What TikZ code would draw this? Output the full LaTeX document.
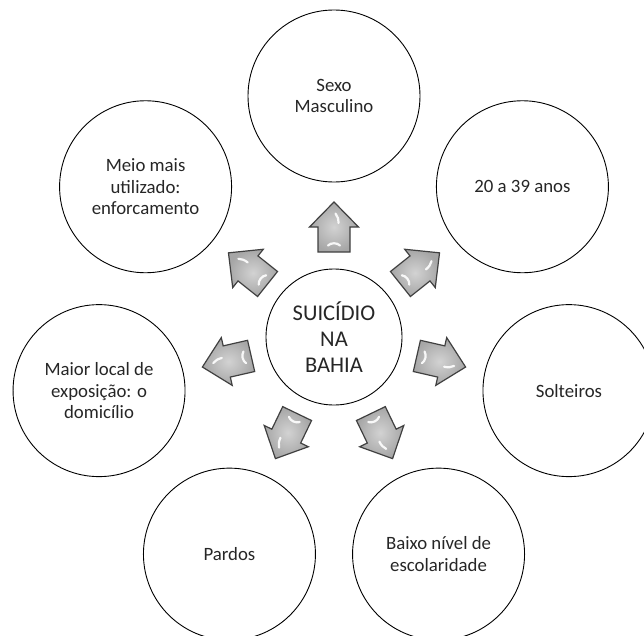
\documentclass[tikz,border=0pt]{standalone}
\usepackage{fontspec}
\setmainfont{Carlito}
\definecolor{txt}{HTML}{262626}
\definecolor{arrline}{HTML}{404040}
\begin{document}
\begin{tikzpicture}[x=1pt,y=1pt,
  outer/.style={circle, draw=black, line width=0.9pt, minimum size=172pt, inner sep=0pt,
    align=center, text=txt, font=\fontsize{18.8}{21.5}\selectfont},
  hub/.style={circle, draw=black, line width=0.9pt, minimum size=136pt, inner sep=0pt,
    align=center, text=txt, font=\fontsize{22.5}{26}\selectfont},
  arrowbox/.style={draw=arrline, line width=1.2pt, line join=miter, inner color=gray!35, outer color=gray!70},
  hl/.style={draw=white, line width=2.2pt, line cap=round, opacity=0.9}]
\useasboundingbox (-334,-298) rectangle (310,337);
\clip (-334,-298) rectangle (310,337);
\node[hub] (c) at (0,0) {SUICÍDIO\\NA\\BAHIA};
\node[outer] (o0) at (90:241) {Sexo\\Masculino};
\node[outer] (o1) at (38.571:241) {20 a 39 anos};
\node[outer] (o2) at (-12.857:241) {Solteiros};
\node[outer] (o3) at (-64.286:241) {Baixo nível de\\escolaridade};
\node[outer] (o4) at (-115.714:241) {Pardos};
\node[outer] (o5) at (192.857:241) {Maior local de\\exposição: o\\domicílio};
\node[outer] (o6) at (141.429:241) {Meio mais\\utilizado:\\enforcamento};
\foreach \k in {0,...,6}{
  \pgfmathsetmacro\ang{90-51.428571*\k}
  \begin{scope}[rotate=\ang]
    \path[arrowbox] (85,-16) -- (110,-16) -- (110,-24.5) -- (135,0) -- (110,24.5) -- (110,16) -- (85,16) -- cycle;
    \draw[hl] (91.5,6) .. controls (94.5,3) and (94.5,-3) .. (91.5,-6);
    \draw[hl] (114,-4.5) .. controls (118,-4.5) and (121,-3.5) .. (123.5,-1.5);
  \end{scope}
}
\end{tikzpicture}
\end{document}
